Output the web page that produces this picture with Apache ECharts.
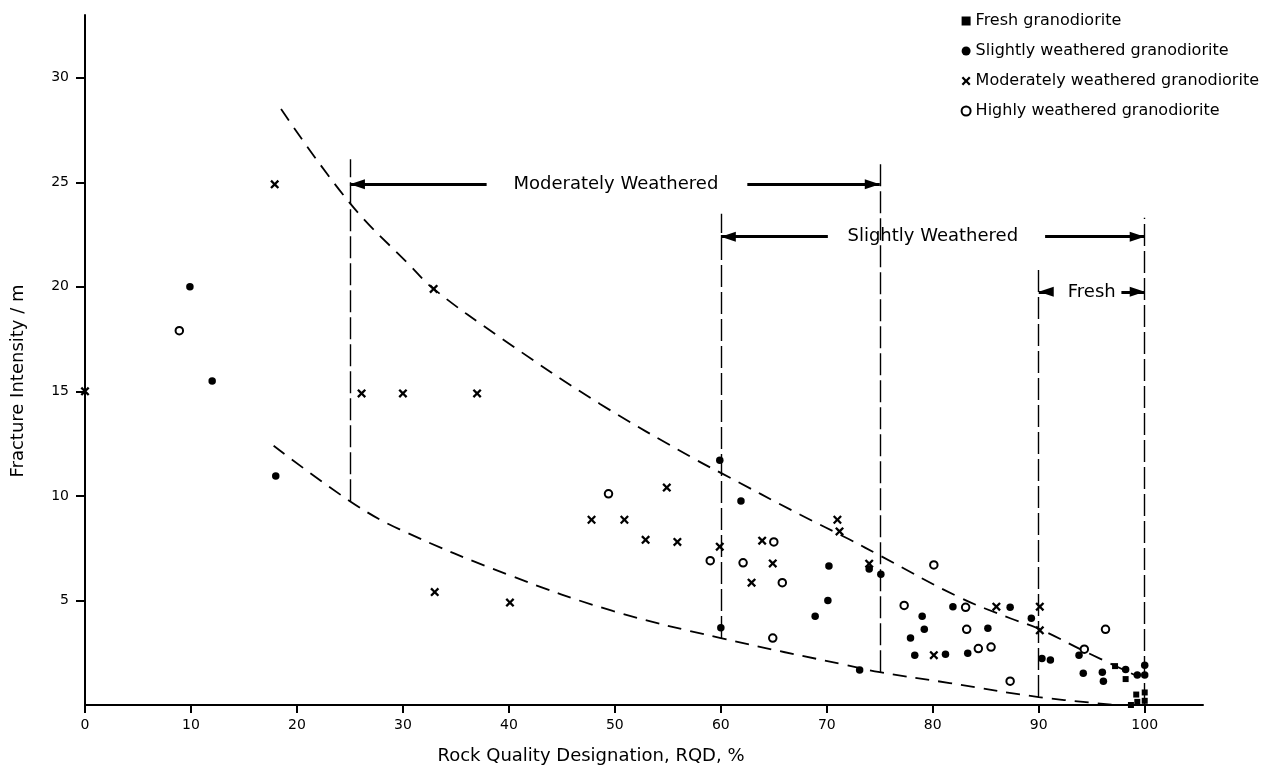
<!DOCTYPE html>
<html>
<head>
<meta charset="utf-8">
<script src="https://cdn.jsdelivr.net/npm/echarts@6/dist/echarts.min.js"></script>
<style>
  html, body { margin: 0; padding: 0; background: #fff; }
  #chart { width: 1272px; height: 776px; }
</style>
</head>
<body>
<div id="chart"></div>
<script>
// tick labels
const xTicks = [0, 10, 20, 30, 40, 50, 60, 70, 80, 90, 100]
const yTicks = [5, 10, 15, 20, 25, 30]

// measured points [RQD %, fracture intensity /m]
const fresh = [[97.2, 1.86], [98.2, 1.24], [99.2, 0.5], [99.3, 0.15], [100, 0.6], [100, 0.2], [98.7, 0]]
const slightly = [
  [9.9, 20.0], [12.0, 15.5], [18.0, 10.95], [59.9, 11.7], [60, 3.7], [61.9, 9.76],
  [70.2, 6.65], [70.1, 5.0], [68.9, 4.25], [74.0, 6.5], [75.1, 6.25], [73.1, 1.67],
  [79, 4.25], [79.2, 3.62], [77.9, 3.2], [78.3, 2.38], [81.2, 2.43], [81.9, 4.7],
  [83.3, 2.47], [85.2, 3.67], [87.3, 4.67], [89.3, 4.15], [90.3, 2.22], [91.1, 2.15],
  [93.8, 2.38], [94.2, 1.52], [96, 1.57], [96.1, 1.14], [98.2, 1.7], [99.3, 1.43],
  [100, 1.43], [100, 1.9]
]
const moderately = [
  [0, 15], [17.9, 24.9], [26.1, 14.9], [30, 14.9], [37, 14.9], [32.9, 19.9], [33, 5.4],
  [40.1, 4.9], [47.8, 8.86], [50.9, 8.86], [54.9, 10.4], [52.9, 7.9], [55.9, 7.8],
  [59.9, 7.57], [63.9, 7.86], [64.9, 6.77], [62.9, 5.85], [71.0, 8.86], [71.2, 8.3],
  [74, 6.76], [80.1, 2.38], [86, 4.7], [90.1, 4.7], [90.1, 3.57]
]
const highly = [
  [8.9, 17.9], [49.4, 10.1], [59.0, 6.9], [62.1, 6.8], [65.0, 7.8], [65.8, 5.85],
  [64.9, 3.2], [80.1, 6.7], [77.3, 4.76], [83.1, 4.67], [83.2, 3.62], [84.3, 2.7],
  [85.5, 2.77], [87.3, 1.14], [94.3, 2.67], [96.3, 3.62]
]

// envelope curves
const upperCurve = [
  [18.5, 28.5], [25, 24.0], [30.7, 21.0], [32.9, 19.9], [39.4, 17.5],
  [48.6, 14.4], [57.4, 11.8], [60, 11.1], [67.5, 9.1], [72.2, 7.9], [75, 7.15],
  [82.5, 5.15], [87.3, 4.15], [90, 3.65], [94.2, 2.6], [99.2, 1.4]
]
const lowerCurve = [
  [17.8, 12.4], [25, 9.75], [29.7, 8.4], [40.1, 6.2], [49.8, 4.5], [60, 3.2],
  [71.9, 1.9], [75, 1.57], [81.6, 1.05], [90, 0.38], [97.4, 0]
]

// vertical zone boundaries
const zoneX = [25, 60, 75, 90, 100]
const zoneBottom = [9.75, 3.2, 1.57, 0.38, 0]
const zoneTop = [26.1, 23.5, 26.0, 21.0, 23.3]

// zone arrows: label, level, span, gap around label, label x
const zoneNames = ['Moderately Weathered', 'Slightly Weathered', 'Fresh']
const zoneLevel = [24.9, 22.4, 19.76]
const zoneFrom = [25, 60, 90]
const zoneTo = [75, 100, 100]
const zoneGapL = [37.9, 70.1, 91.3]
const zoneGapR = [62.5, 90.6, 97.8]
const zoneTextX = [50.1, 80.0, 95.0]

const FONT = 'DejaVu Sans'
const crossPath = 'path://M0,1.8L1.8,0L5,3.2L8.2,0L10,1.8L6.8,5L10,8.2L8.2,10L5,6.8L1.8,10L0,8.2L3.2,5Z'
// arrow head with its tip in the middle of the symbol box
const arrowHead = 'path://M5,14L10,28L0,28Z M5,0L5.01,0L5,0.01Z'

let chart = echarts.init(document.getElementById('chart'), null, { renderer: 'canvas' })

let markData = []
zoneX.forEach(function (x, i) {
  markData.push([
    { coord: [x, zoneBottom[i]], lineStyle: { type: [22, 5], width: 1.4 } },
    { coord: [x, zoneTop[i]] }
  ])
})
zoneNames.forEach(function (n, i) {
  let arrowEnd = { symbol: arrowHead, symbolSize: [10, 30] }
  markData.push([
    { coord: [zoneGapL[i], zoneLevel[i]], symbol: 'none' },
    Object.assign({ coord: [zoneFrom[i], zoneLevel[i]] }, arrowEnd)
  ])
  markData.push([
    { coord: [zoneGapR[i], zoneLevel[i]], symbol: 'none' },
    Object.assign({ coord: [zoneTo[i], zoneLevel[i]] }, arrowEnd)
  ])
})

let option = {
  backgroundColor: '#fff',
  animation: false,
  textStyle: { fontFamily: FONT, color: '#000' },
  grid: { left: 85, right: 69, top: 15, bottom: 71 },
  legend: {
    orient: 'vertical',
    right: 8,
    top: 8,
    itemGap: 14,
    itemWidth: 9,
    itemHeight: 9,
    data: ['Fresh granodiorite', 'Slightly weathered granodiorite', 'Moderately weathered granodiorite', 'Highly weathered granodiorite'],
    textStyle: { fontFamily: FONT, fontSize: 16, color: '#000' }
  },
  xAxis: {
    type: 'value',
    min: 0,
    max: 105.5,
    name: 'Rock Quality Designation, RQD, %',
    nameLocation: 'middle',
    nameGap: 42,
    nameTextStyle: { fontFamily: FONT, fontSize: 18, color: '#000', padding: [0, 106, 0, 0] },
    splitLine: { show: false },
    axisLine: { lineStyle: { color: '#000', width: 2 } },
    axisTick: { customValues: xTicks, length: 8, lineStyle: { color: '#000', width: 2 } },
    axisLabel: { customValues: xTicks, margin: 13, fontFamily: FONT, fontSize: 14, color: '#000' }
  },
  yAxis: {
    type: 'value',
    min: 0,
    max: 33,
    name: 'Fracture Intensity / m',
    nameLocation: 'middle',
    nameGap: 58,
    nameTextStyle: { fontFamily: FONT, fontSize: 18, color: '#000', padding: [0, 42, 0, 0] },
    splitLine: { show: false },
    axisLine: { lineStyle: { color: '#000', width: 2 } },
    axisTick: { customValues: yTicks, length: 9, lineStyle: { color: '#000', width: 2 } },
    axisLabel: { customValues: yTicks, margin: 16, fontFamily: FONT, fontSize: 14, color: '#000' }
  },
  series: [
    {
      name: 'Fresh granodiorite', type: 'scatter', symbol: 'rect', symbolSize: 6,
      itemStyle: { color: '#000', opacity: 1 }, data: fresh, z: 5
    },
    {
      name: 'Slightly weathered granodiorite', type: 'scatter', symbol: 'circle', symbolSize: 7.5,
      itemStyle: { color: '#000', opacity: 1 }, data: slightly, z: 5
    },
    {
      name: 'Moderately weathered granodiorite', type: 'scatter', symbol: crossPath, symbolSize: 9,
      itemStyle: { color: '#000', opacity: 1 }, data: moderately, z: 5
    },
    {
      name: 'Highly weathered granodiorite', type: 'scatter', symbol: 'circle', symbolSize: 7.5,
      itemStyle: { color: '#fff', borderColor: '#000', borderWidth: 2, opacity: 1 }, data: highly, z: 5
    },
    {
      name: 'upper', type: 'line', smooth: 0.4, showSymbol: false, data: upperCurve,
      lineStyle: { color: '#000', width: 1.8, type: [14, 9] }
    },
    {
      name: 'lower', type: 'line', smooth: 0.4, showSymbol: false, data: lowerCurve,
      lineStyle: { color: '#000', width: 1.8, type: [14, 9] },
      markLine: {
        silent: true,
        symbol: ['none', 'none'],
        label: { show: false },
        lineStyle: { color: '#000', width: 3, type: 'solid' },
        data: markData
      }
    },
    {
      name: 'zoneText', type: 'scatter', symbolSize: 0, silent: true,
      itemStyle: { opacity: 1 },
      data: zoneNames.map(function (n, i) { return [zoneTextX[i], zoneLevel[i], n] }),
      label: {
        show: true, position: 'inside', formatter: function (p) { return p.value[2] },
        fontFamily: FONT, fontSize: 18, color: '#000', textBorderWidth: 0
      }
    }
  ]
}

chart.setOption(option)
</script>
</body>
</html>
